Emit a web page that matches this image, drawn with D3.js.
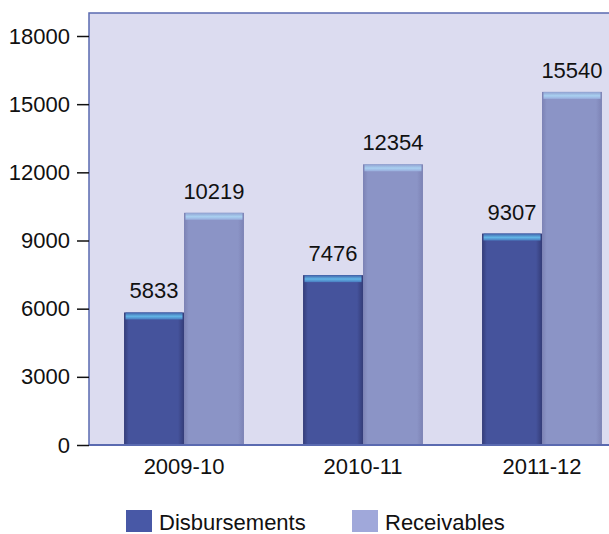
<!DOCTYPE html>
<html>
<head>
<meta charset="utf-8">
<script src="https://cdn.jsdelivr.net/npm/d3@7"></script>
<style>
  body { margin: 0; background: #fff; }
  text { font-family: "Liberation Sans", "DejaVu Sans", sans-serif; fill: #111; }
</style>
</head>
<body>
<div id="chart"></div>
<script>
// chart data
const years = ["2009-10", "2010-11", "2011-12"];
const seriesNames = ["Disbursements", "Receivables"];
const disbursements = [5833, 7476, 9307];
const receivables = [10219, 12354, 15540];
const yTicks = [0, 3000, 6000, 9000, 12000, 15000, 18000];

const width = 609, height = 534;
const margin = { top: 13, left: 89, bottom: 89 };
const plotBottom = height - margin.bottom; // 445

const svg = d3.select("#chart").append("svg")
  .attr("width", width)
  .attr("height", height);

const defs = svg.append("defs");

// horizontal shading for the bars
function barGradient(id, edge, mid) {
  const g = defs.append("linearGradient").attr("id", id)
    .attr("x1", "0%").attr("x2", "100%").attr("y1", "0%").attr("y2", "0%");
  g.append("stop").attr("offset", "0%").attr("stop-color", edge);
  g.append("stop").attr("offset", "8%").attr("stop-color", mid);
  g.append("stop").attr("offset", "90%").attr("stop-color", mid);
  g.append("stop").attr("offset", "100%").attr("stop-color", edge);
}
barGradient("gDis", "#343c78", "#45539c");
barGradient("gRec", "#7c82b4", "#8b94c6");

function capGradient(id, top, mid, bottom) {
  const g = defs.append("linearGradient").attr("id", id)
    .attr("x1", "0%").attr("x2", "0%").attr("y1", "0%").attr("y2", "100%");
  g.append("stop").attr("offset", "0%").attr("stop-color", top);
  g.append("stop").attr("offset", "55%").attr("stop-color", mid);
  g.append("stop").attr("offset", "100%").attr("stop-color", bottom);
}
capGradient("cDis", "#4060a8", "#62b6e6", "#4a7cc0");
capGradient("cRec", "#90a0d0", "#a9d0f0", "#98acdc");

const y = d3.scaleLinear()
  .domain([0, 18000])
  .range([plotBottom, 36]);

const x = d3.scaleBand()
  .domain(years)
  .range([94.5, 631.5])
  .paddingInner(0.33)
  .paddingOuter(0.165);

const xs = d3.scaleBand()
  .domain(seriesNames)
  .range([0, x.bandwidth()]);

// plot background
svg.append("rect")
  .attr("x", margin.left)
  .attr("y", margin.top)
  .attr("width", width - margin.left + 10)
  .attr("height", plotBottom - margin.top)
  .attr("fill", "#dcdcf0")
  .attr("stroke", "#5a6ab0")
  .attr("stroke-width", 1.5);

// y axis
const yAxis = svg.append("g")
  .attr("transform", `translate(${margin.left},0)`)
  .call(d3.axisLeft(y).tickValues(yTicks).tickSize(12).tickPadding(7).tickFormat(d3.format("d")));
yAxis.select(".domain").remove();
yAxis.selectAll(".tick line").attr("stroke", "#111").attr("stroke-width", 1.5);
yAxis.selectAll("text").style("font-size", "22px").attr("fill", "#111");

// bars
const data = years.map((yr, i) => ({
  year: yr,
  values: [
    { name: seriesNames[0], value: disbursements[i], fill: "url(#gDis)", cap: "url(#cDis)" },
    { name: seriesNames[1], value: receivables[i], fill: "url(#gRec)", cap: "url(#cRec)" }
  ]
}));

const groups = svg.selectAll(".group")
  .data(data)
  .enter()
  .append("g")
  .attr("class", "group")
  .attr("transform", d => `translate(${x(d.year)},0)`);

const bars = groups.selectAll(".bar")
  .data(d => d.values)
  .enter()
  .append("g")
  .attr("class", "bar");

bars.append("rect")
  .attr("x", d => xs(d.name))
  .attr("y", d => y(d.value))
  .attr("width", xs.bandwidth())
  .attr("height", d => plotBottom - y(d.value))
  .attr("fill", d => d.fill);

bars.append("rect")
  .attr("x", d => xs(d.name) + 1.5)
  .attr("y", d => y(d.value))
  .attr("width", xs.bandwidth() - 3)
  .attr("height", 7)
  .attr("fill", d => d.cap);

bars.append("text")
  .attr("x", d => xs(d.name) + xs.bandwidth() / 2)
  .attr("y", d => y(d.value) - 14)
  .attr("text-anchor", "middle")
  .style("font-size", "22px")
  .text(d => d.value);

// bottom axis line
svg.append("line")
  .attr("x1", margin.left).attr("x2", width)
  .attr("y1", plotBottom).attr("y2", plotBottom)
  .attr("stroke", "#5a6ab0")
  .attr("stroke-width", 2);

// x labels
svg.selectAll(".xlabel")
  .data(years)
  .enter()
  .append("text")
  .attr("class", "xlabel")
  .attr("x", d => x(d) + x.bandwidth() / 2)
  .attr("y", 474)
  .attr("text-anchor", "middle")
  .style("font-size", "22px")
  .text(d => d);

// legend
const legendColors = ["#4858a6", "#a0a8da"];
const legendX = [126, 352];
const legend = svg.selectAll(".legend")
  .data(seriesNames)
  .enter()
  .append("g")
  .attr("class", "legend")
  .attr("transform", (d, i) => `translate(${legendX[i]},510)`);

legend.append("rect")
  .attr("width", 26)
  .attr("height", 22)
  .attr("fill", (d, i) => legendColors[i]);

legend.append("text")
  .attr("x", 33)
  .attr("y", 20)
  .style("font-size", "22px")
  .text(d => d);
</script>
</body>
</html>
